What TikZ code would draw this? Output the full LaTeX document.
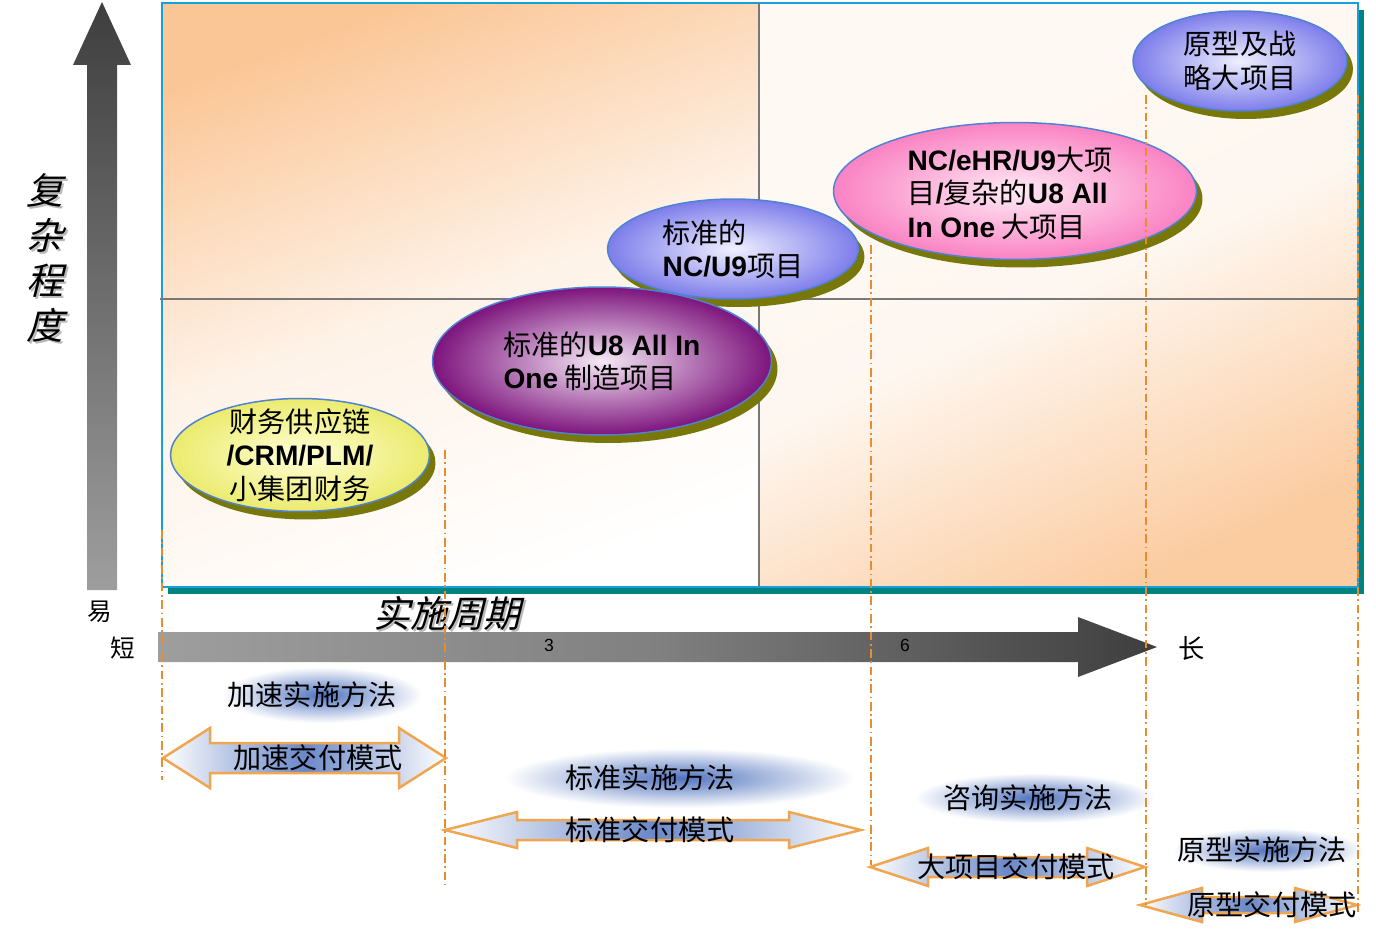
\documentclass[tikz,border=0pt]{standalone}
\usepackage{fontspec}
\setmainfont{Noto Sans CJK SC}
\newfontfamily\arialfont{Liberation Sans}
\newfontfamily\slantfont{Noto Sans CJK SC}[FakeSlant=0.25]
\newcommand{\latinbf}{\arialfont\bfseries}
\usetikzlibrary{
    calc,                   % Calculating coordinates.
    positioning,            % Relative positioning of nodes.
    shapes.geometric,       % Ellipses for the project classes.
    shadows                 % Olive drop shadows.
}
\definecolor{bgorange}{RGB}{251,198,150}
\definecolor{boxblue}{RGB}{20,160,220}
\definecolor{tealshadow}{RGB}{0,130,130}
\definecolor{gridgray}{RGB}{120,120,120}
\definecolor{axisdark}{RGB}{62,62,62}
\definecolor{axismid}{RGB}{128,128,128}
\definecolor{axislight}{RGB}{158,158,158}
\definecolor{dashorange}{RGB}{232,140,45}
\definecolor{arroworange}{RGB}{240,165,80}
\definecolor{blurblue}{RGB}{80,115,190}
\definecolor{blobline}{RGB}{80,130,210}
\definecolor{blobshadow}{RGB}{120,120,10}
\definecolor{yelin}{RGB}{255,255,215}
\definecolor{yelout}{RGB}{235,235,110}
\definecolor{purin}{RGB}{245,232,245}
\definecolor{purout}{RGB}{125,20,125}
\definecolor{lavin}{RGB}{240,240,255}
\definecolor{lavout}{RGB}{125,125,235}
\definecolor{pinkin}{RGB}{255,235,245}
\definecolor{pinkout}{RGB}{250,130,195}

\begin{document}
\begin{tikzpicture}[x=0.02cm, y=-0.02cm, line width=0.25mm,
    blob/.style={ellipse, draw=blobline, line width=0.3mm, inner sep=0pt,
        drop shadow={shadow xshift=0.12cm, shadow yshift=-0.16cm,
            fill=blobshadow, opacity=1}},
    blobtext/.style={font=\fontsize{16}{19}\selectfont, align=left},
    method/.style={font=\fontsize{16}{19}\selectfont},
    titletext/.style={font=\slantfont\fontsize{21}{25.6}\selectfont, align=center},
    guide/.style={draw=dashorange, line width=0.3mm,
        dash pattern=on 5pt off 2pt on 1pt off 2pt},
    deliv/.style={draw=arroworange, line width=0.5mm, left color=white,
        right color=white, middle color=blurblue!85}]
    \useasboundingbox (0,0) rectangle (1376,939);
    % chart area
    \fill[tealshadow] (168,10) rectangle (1364,594);
    \fill[top color=bgorange, bottom color=white, middle color=bgorange!22,
        shading angle=20] (162,3) rectangle (759,587);
    \fill[top color=bgorange!10, bottom color=bgorange!90, middle color=bgorange!14,
        shading angle=25] (759,3) rectangle (1358,587);
    \draw[boxblue, line width=0.3mm] (162,3) rectangle (1358,587);
    \draw[gridgray, line width=0.3mm] (759,3) to (759,587);
    \draw[gridgray, line width=0.3mm] (160,299) to (1358,299);
    % axes
    \shade[top color=axisdark, bottom color=axislight]
        (87,590) -- (87,65) -- (73,65) -- (102,2) -- (131,65)
        -- (117,65) -- (117,590) -- cycle;
    \shade[left color=axislight, right color=axisdark, middle color=axismid]
        (158,632) -- (1078,632) -- (1078,617) -- (1157,647)
        -- (1078,677) -- (1078,662) -- (158,662) -- cycle;
    \node[font=\arialfont\fontsize{10}{12}\selectfont] (m3) at (549,645) {3};
    \node[font=\arialfont\fontsize{10}{12}\selectfont] (m6) at (905,645) {6};
    \node[font=\fontsize{14}{16}\selectfont] (easy) at (100,612) {易};
    \node[font=\fontsize{14}{16}\selectfont] (short) at (123,648) {短};
    \node[font=\fontsize{15}{17}\selectfont] (long) at (1192,648) {长};
    \node[titletext, text=gray!55] (cplxS) at (47,260) {复\\杂\\程\\度};
    \node[titletext] (cplx) at (45,258) {复\\杂\\程\\度};
    \node[titletext, text=gray!55] (periodS) at (449,615) {实施周期};
    \node[titletext] (period) at (447,613) {实施周期};
    % project classes
    \node[blob, inner color=yelin, outer color=yelout,
        minimum width=5.18cm, minimum height=2.26cm] (fin) at (300,455) {};
    \node[blobtext, align=center] (finT) at (fin)
        {财务供应链\\{\latinbf /CRM/PLM/}\\小集团财务};
    \node[blob, inner color=lavin, outer color=lavout,
        minimum width=5.02cm, minimum height=2.0cm] (ncu9) at (733,249) {};
    \node[blobtext] (ncu9T) at (ncu9) {标准的\\{\latinbf NC/U9}项目};
    \node[blob, inner color=purin, outer color=purout,
        minimum width=6.78cm, minimum height=2.96cm] (u8) at (602,361) {};
    \node[blobtext] (u8T) at (u8)
        {标准的{\latinbf U8 All In}\\{\latinbf One} 制造项目};
    \node[blob, inner color=pinkin, outer color=pinkout,
        minimum width=7.26cm, minimum height=2.74cm] (big) at (1015,191) {};
    \node[blobtext] (bigT) at (1010,193)
        {{\latinbf NC/eHR/U9}大项\\目{\latinbf /}复杂的{\latinbf U8 All}\\{\latinbf In One} 大项目};
    \node[blob, inner color=lavin, outer color=lavout,
        minimum width=4.28cm, minimum height=2.0cm] (proto) at (1240,61) {};
    \node[blobtext] (protoT) at (proto) {原型及战\\略大项目};
    % methods
    \foreach \nm/\x/\y/\cx/\w/\hh/\txt in {accM/312/695/322/100/28/加速实施方法,
        stdM/650/778/680/175/30/标准实施方法,
        conM/1028/798/1035/120/25/咨询实施方法,
        proM/1262/850/1268/95/22/原型实施方法}{
        \shade[inner color=blurblue, outer color=white]
            (\cx-\w,\y-\hh) rectangle (\cx+\w,\y+\hh);
        \node[method] (\nm) at (\x,\y) {\txt};
    }
    % delivery modes
    \foreach \nm/\xa/\xb/\y/\arrlen/\headh/\shafth/\tx/\txt in
        {accD/163/446/758/47/30/15/318/加速交付模式,
        stdD/445/861/830/72/18/10/650/标准交付模式,
        bigD/870/1145/867/58/19/10/1016/大项目交付模式,
        proD/1140/1357/905/62/17/8/1272/原型交付模式}{
        \draw[deliv] (\xa,\y) -- (\xa+\arrlen,\y-\headh) -- (\xa+\arrlen,\y-\shafth)
            -- (\xb-\arrlen,\y-\shafth) -- (\xb-\arrlen,\y-\headh) -- (\xb,\y)
            -- (\xb-\arrlen,\y+\headh) -- (\xb-\arrlen,\y+\shafth)
            -- (\xa+\arrlen,\y+\shafth) -- (\xa+\arrlen,\y+\headh) -- cycle;
        \node[method] (\nm) at (\tx,\y) {\txt};
    }
    % guides
    \foreach \x/\ya/\yb in {162/530/780, 445/450/885, 871/245/865,
        1146/95/905, 1358/95/915}
        \draw[guide] (\x,\ya) to (\x,\yb);
\end{tikzpicture}
\end{document}
